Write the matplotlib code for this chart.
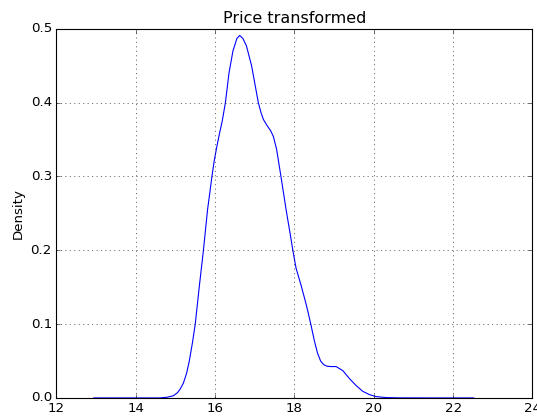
import matplotlib
matplotlib.use("Agg")
import matplotlib.pyplot as plt

plt.style.use("classic")

title = "Price transformed"
ylabel = "Density"

price_x = [12.94, 14.0, 14.6, 14.8, 14.95, 15.05, 15.12, 15.2, 15.28, 15.35, 15.43,
           15.50, 15.6, 15.706, 15.81, 15.86, 15.92, 15.98, 16.05, 16.11, 16.18, 16.26,
           16.35, 16.45, 16.55, 16.62, 16.70, 16.79, 16.92, 17.09, 17.16, 17.22, 17.31,
           17.40, 17.47, 17.55, 17.66, 17.79, 17.89, 17.96, 18.04, 18.17, 18.28,
           18.34, 18.42, 18.50, 18.58, 18.66, 18.74, 18.82, 18.92, 19.05, 19.22, 19.39, 19.55,
           19.72, 19.89, 20.06, 20.31, 20.65, 21.5, 22.52]
density = [0.0, 0.0, 0.0, 0.001, 0.003, 0.007, 0.012, 0.02, 0.033, 0.05, 0.075,
           0.10, 0.15, 0.20, 0.255, 0.275, 0.30, 0.322, 0.342, 0.358, 0.375, 0.40,
           0.44, 0.47, 0.487, 0.491, 0.487, 0.477, 0.45, 0.40, 0.386, 0.377, 0.369,
           0.362, 0.354, 0.337, 0.30, 0.255, 0.223, 0.20, 0.176, 0.152, 0.13,
           0.117, 0.098, 0.078, 0.061, 0.050, 0.045, 0.043, 0.0425, 0.0425, 0.037, 0.026, 0.017,
           0.009, 0.0045, 0.0018, 0.0005, 0.0001, 0.0, 0.0]

fig = plt.figure(figsize=(537 / 80, 418 / 80), dpi=80, facecolor="white")
ax = fig.add_axes([0.105, 0.048, 0.8866, 0.883])
ax.plot(price_x, density, color="b", linewidth=1.0)
ax.set_xlim(12, 24)
ax.set_ylim(0, 0.5)
ax.set_xticks([12, 14, 16, 18, 20, 22, 24])
ax.set_yticks([0.0, 0.1, 0.2, 0.3, 0.4, 0.5])
ax.grid(True)
ax.set_title(title)
ax.set_ylabel(ylabel)
fig.savefig("out.png", dpi=80, facecolor="white")
